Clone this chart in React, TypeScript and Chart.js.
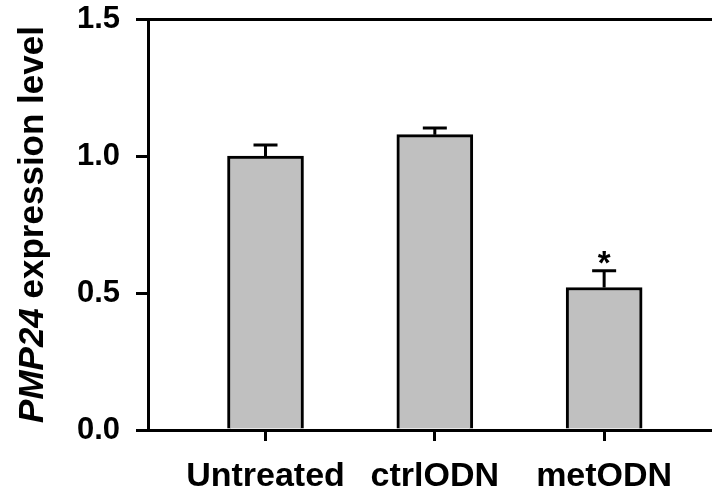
import React, { useEffect, useRef } from "react";
import { Chart, registerables } from "chart.js";

Chart.register(...registerables);

// ---- data ----
const categories = ["Untreated", "ctrlODN", "metODN"];
const positions = [1, 2, 3];
const means = [1.0, 1.078, 0.52];
const errors = [0.04, 0.024, 0.061];
const marks = ["", "", "*"];
const yTicks = [0, 0.5, 1.0, 1.5];
const yMin = 0;
const yMax = 1.5;
const xMin = 0.306;
const xMax = 3.637;
const yTitleItalic = "PMP24";
const yTitleRest = " expression level";

const FONT = "'Liberation Sans', Arial, Helvetica, sans-serif";

const errorBarPlugin = {
  id: "errorBars",
  afterDatasetsDraw(chart: any) {
    const { ctx, scales } = chart;
    const xs = scales.x;
    const ys = scales.y;
    ctx.save();
    ctx.strokeStyle = "#000";
    ctx.lineWidth = 3;
    ctx.lineCap = "butt";
    for (let i = 0; i < means.length; i++) {
      const x = xs.getPixelForValue(positions[i]);
      const yTop = ys.getPixelForValue(means[i]);
      const yErr = ys.getPixelForValue(means[i] + errors[i]);
      ctx.beginPath();
      ctx.moveTo(x, yTop);
      ctx.lineTo(x, yErr);
      ctx.moveTo(x - 12, yErr);
      ctx.lineTo(x + 12, yErr);
      ctx.stroke();
      if (marks[i]) {
        ctx.fillStyle = "#000";
        ctx.font = `bold 33px ${FONT}`;
        ctx.textAlign = "center";
        ctx.textBaseline = "alphabetic";
        ctx.fillText(marks[i], x, yErr + 3);
      }
    }
    ctx.restore();
  },
};

const yTitlePlugin = {
  id: "yTitle",
  afterDraw(chart: any) {
    const { ctx, chartArea } = chart;
    const cy = (chartArea.top + chartArea.bottom) / 2;
    ctx.save();
    ctx.translate(42.5, cy);
    ctx.rotate(-Math.PI / 2);
    ctx.fillStyle = "#000";
    ctx.textBaseline = "alphabetic";
    ctx.textAlign = "left";
    const fItalic = `italic bold 35px ${FONT}`;
    const fBold = `bold 35px ${FONT}`;
    ctx.font = fItalic;
    const w1 = ctx.measureText(yTitleItalic).width;
    ctx.font = fBold;
    const w2 = ctx.measureText(yTitleRest).width;
    const start = -(w1 + w2) / 2;
    ctx.font = fItalic;
    ctx.fillText(yTitleItalic, start, 0);
    ctx.font = fBold;
    ctx.fillText(yTitleRest, start + w1, 0);
    ctx.restore();
  },
};

export default function App() {
  const ref = useRef<HTMLCanvasElement | null>(null);

  useEffect(() => {
    if (!ref.current) return;
    const chart = new Chart(ref.current, {
      type: "bar",
      data: {
        datasets: [
          {
            data: positions.map((p, i) => ({ x: p, y: means[i] })),
            backgroundColor: "#c0c0c0",
            borderColor: "#000",
            borderWidth: 3,
            barThickness: 76,
          } as any,
        ],
      },
      options: {
        animation: false,
        responsive: false,
        devicePixelRatio: 1,
        layout: { padding: { top: 19, right: 0, left: 0, bottom: 0 } },
        plugins: {
          legend: { display: false },
          tooltip: { enabled: false },
        },
        scales: {
          x: {
            type: "linear",
            min: xMin,
            max: xMax,
            offset: false,
            afterBuildTicks: (s: any) => {
              s.ticks = positions.map((v) => ({ value: v }));
            },
            afterFit: (s: any) => {
              s.height = 64;
              s.paddingLeft = 0;
              s.paddingRight = 0;
            },
            border: { display: true, color: "#000", width: 3 },
            grid: {
              drawOnChartArea: false,
              offset: false,
              drawTicks: true,
              tickLength: 11,
              tickColor: "#000",
              lineWidth: 3,
            },
            ticks: {
              autoSkip: false,
              maxRotation: 0,
              color: "#000",
              padding: 15,
              font: { family: FONT, size: 34, weight: "bold" },
              callback: (v: any) => {
                const idx = positions.indexOf(Number(v));
                return idx >= 0 ? categories[idx] : "";
              },
            },
          },
          y: {
            type: "linear",
            min: yMin,
            max: yMax,
            afterBuildTicks: (s: any) => {
              s.ticks = yTicks.map((v) => ({ value: v }));
            },
            afterFit: (s: any) => {
              s.width = 148;
              s.paddingTop = 0;
              s.paddingBottom = 0;
            },
            border: { display: true, color: "#000", width: 3 },
            grid: {
              drawOnChartArea: true,
              drawTicks: true,
              tickLength: 12,
              tickColor: "#000",
              lineWidth: 3,
              color: (c: any) =>
                c.tick && c.tick.value === yMax ? "#000" : "rgba(0,0,0,0)",
            },
            ticks: {
              color: "#000",
              padding: 16,
              font: { family: FONT, size: 31, weight: "bold" },
              callback: (v: any) => Number(v).toFixed(1),
            },
          },
        },
      } as any,
      plugins: [errorBarPlugin, yTitlePlugin],
    });
    return () => chart.destroy();
  }, []);

  return (
    <div style={{ position: "fixed", left: 0, top: 0, width: 712, height: 494, background: "#fff" }}>
      <canvas ref={ref} width={712} height={494} style={{ width: 712, height: 494, display: "block" }} />
    </div>
  );
}
